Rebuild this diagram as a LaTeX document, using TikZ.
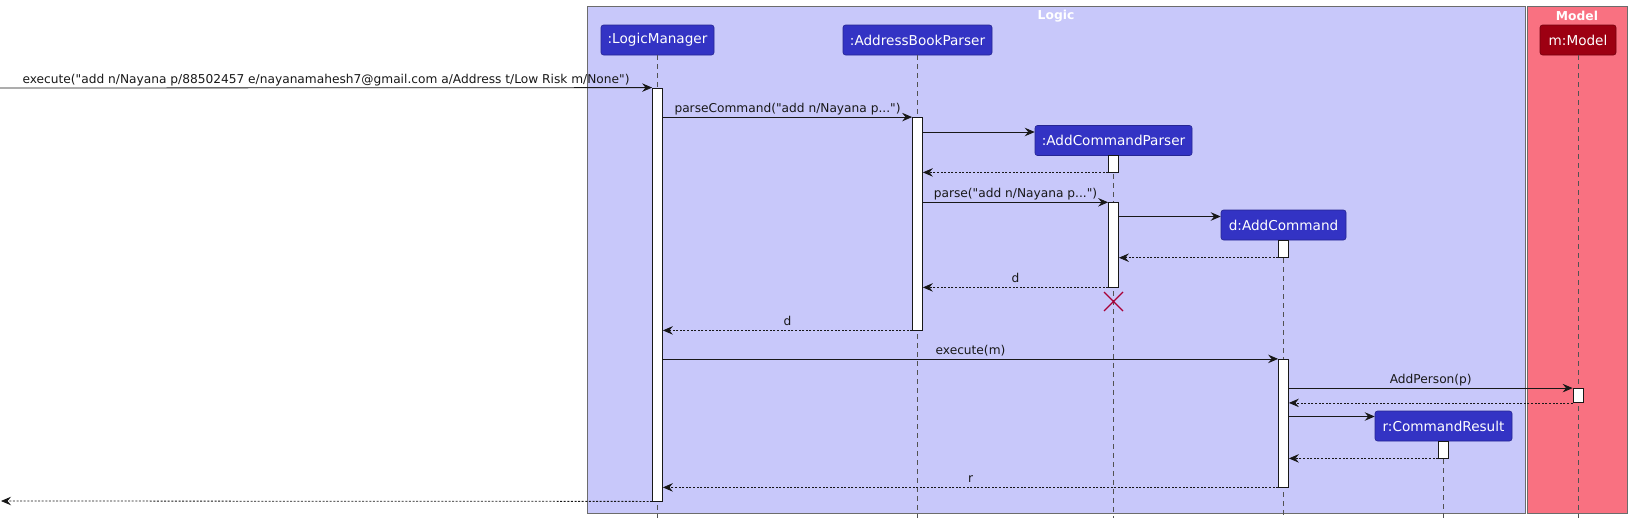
\documentclass[tikz,border=0pt]{standalone}
\usepackage{fontspec}
\setmainfont{DejaVu Sans}
\usetikzlibrary{arrows.meta,calc}
\definecolor{logicc}{HTML}{3333C4}
\definecolor{logict}{HTML}{C8C8FA}
\definecolor{modelc}{HTML}{9D0012}
\definecolor{modelt}{HTML}{F97181}
\definecolor{xred}{HTML}{A80036}
\definecolor{ink}{HTML}{181818}
\newcommand\dq{\textquotedbl}
\begin{document}
\begin{tikzpicture}[x=1pt,y=-1pt,
  participant/.style={draw=#1!75!black, fill=#1, rounded corners=2.5pt, text=white,
    font=\fontsize{13.6}{16}\selectfont, minimum height=30pt, inner sep=0pt, line width=0.6pt},
  groupbox/.style={draw=gray!85!black, line width=0.8pt},
  grouplabel/.style={text=white, font=\bfseries\fontsize{12.3}{14}\selectfont, inner sep=0pt},
  lifeline/.style={draw=ink!75, line width=0.5pt, dash pattern=on 5pt off 4pt},
  bar/.style={draw=ink, fill=white, minimum width=10pt, inner sep=0pt, line width=0.8pt},
  msg/.style={draw=ink, line width=0.8pt, -{Stealth[length=10pt,width=8.5pt,inset=3.5pt]}},
  ret/.style={msg, dash pattern=on 2pt off 1.6pt},
  lbl/.style={font=\fontsize{12.2}{14}\selectfont, text=ink, inner sep=0pt, anchor=base, yshift=4.5pt}
]
\useasboundingbox (0,0) rectangle (1632,525);
% groups
\draw[groupbox, fill=logict] (587,6) rectangle (1525,513);
\draw[groupbox, fill=modelt] (1527,6) rectangle (1627,513);
\node[grouplabel] (glogic) at (1056,16) {Logic};
\node[grouplabel] (gmodel) at (1577,16) {Model};
\coordinate (bot) at (0,518);
% participants
\node[participant=logicc, minimum width=113pt] (lm) at (657.5,40) {:LogicManager};
\node[participant=logicc, minimum width=149pt] (abp) at (917.5,40) {:AddressBookParser};
\node[participant=logicc, minimum width=157pt] (acp) at (1113.5,140.5) {:AddCommandParser};
\node[participant=logicc, minimum width=125pt] (ac) at (1283.5,225) {d:AddCommand};
\node[participant=logicc, minimum width=137pt] (cr) at (1443.5,426) {r:CommandResult};
\node[participant=modelc, minimum width=76pt] (mm) at (1578,40) {m:Model};
% lifelines
\foreach \p in {lm,abp,acp,ac,cr,mm} {\draw[lifeline] (\p.south) -- (\p.south |- bot);}
% activation bars
\node[bar, minimum height=413pt] (lmbar) at (657.5,294.5) {};
\node[bar, minimum height=212.5pt] (abpbar) at (917.5,223.75) {};
\node[bar, minimum height=17pt] (acpbar1) at (1113.5,163.5) {};
\node[bar, minimum height=84.3pt] (acpbar2) at (1113.5,244.85) {};
\node[bar, minimum height=16.8pt] (acbar1) at (1283.5,248.9) {};
\node[bar, minimum height=127.7pt] (acbar2) at (1283.5,423.15) {};
\node[bar, minimum height=14pt] (mbar) at (1578,395.5) {};
\node[bar, minimum height=17pt] (crbar) at (1443.5,449.5) {};
% messages
\coordinate (in) at (0,88);
\coordinate (out) at (1,501);
\draw[msg] (in) -- (lmbar.north west)
  node[lbl, pos=0.5] {execute(\dq add n/Nayana p/88502457 e/nayanamahesh7@gmail.com a/Address t/Low Risk m/None\dq)};
\draw[msg] (lmbar.east |- abpbar.north) -- (abpbar.north west)
  node[lbl, pos=0.5] {parseCommand(\dq add n/Nayana p...\dq)};
\draw[msg] (abpbar.east |- 0,132) -- (acp.west |- 0,132);
\draw[ret] (acpbar1.south west) -- (abpbar.east |- acpbar1.south);
\draw[msg] (abpbar.east |- acpbar2.north) -- (acpbar2.north west)
  node[lbl, pos=0.5] {parse(\dq add n/Nayana p...\dq)};
\draw[msg] (acpbar2.east |- 0,216.5) -- (ac.west |- 0,216.5);
\draw[ret] (acbar1.south west) -- (acpbar2.east |- acbar1.south);
\draw[ret] (acpbar2.south west) -- (abpbar.east |- acpbar2.south)
  node[lbl, pos=0.5] {d};
\draw[ret] (abpbar.south west) -- (lmbar.east |- abpbar.south)
  node[lbl, pos=0.5] {d};
\draw[msg] (lmbar.east |- acbar2.north) -- (acbar2.north west)
  node[lbl, pos=0.5] {execute(m)};
\draw[msg] (acbar2.east |- mbar.north) -- (mbar.north west)
  node[lbl, pos=0.5] {AddPerson(p)};
\draw[ret] (mbar.south west) -- (acbar2.east |- mbar.south);
\draw[msg] (acbar2.east |- 0,416.5) -- (cr.west |- 0,416.5);
\draw[ret] (crbar.south west) -- (acbar2.east |- crbar.south);
\draw[ret] (acbar2.south west) -- (lmbar.east |- acbar2.south)
  node[lbl, pos=0.5] {r};
\draw[ret] (lmbar.south west) -- (out);
% destroy mark
\coordinate (xm) at (1113.5,301.5);
\draw[xred, line width=1.3pt] ($(xm)+(-9.5,-9.5)$) -- ($(xm)+(9.5,9.5)$) ($(xm)+(-9.5,9.5)$) -- ($(xm)+(9.5,-9.5)$);
\end{tikzpicture}
\end{document}
